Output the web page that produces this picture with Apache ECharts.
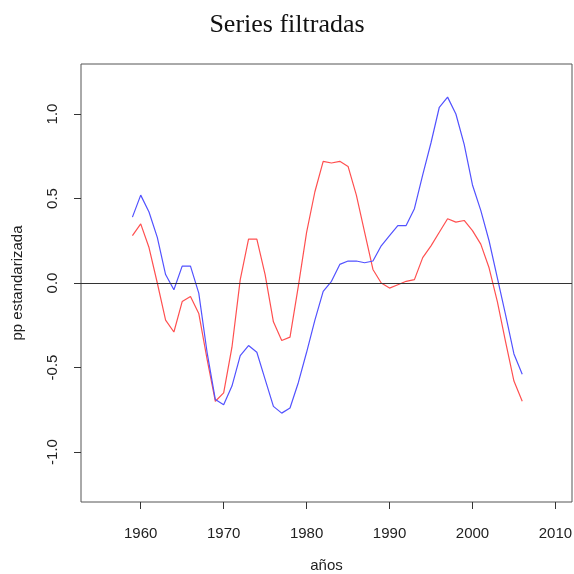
<!DOCTYPE html>
<html>
<head>
<meta charset="utf-8">
<script src="https://cdn.jsdelivr.net/npm/echarts@6/dist/echarts.min.js"></script>
<style>
  html, body { margin: 0; padding: 0; background: #fff; }
  #chart { width: 574px; height: 574px; }
</style>
</head>
<body>
<div id="chart"></div>
<script>
// Years of the filtered series
const years = [1959, 1960, 1961, 1962, 1963, 1964, 1965, 1966, 1967, 1968,
  1969, 1970, 1971, 1972, 1973, 1974, 1975, 1976, 1977, 1978,
  1979, 1980, 1981, 1982, 1983, 1984, 1985, 1986, 1987, 1988,
  1989, 1990, 1991, 1992, 1993, 1994, 1995, 1996, 1997, 1998,
  1999, 2000, 2001, 2002, 2003, 2004, 2005, 2006];

// Blue filtered series (standardised)
const serieAzul = [0.39, 0.52, 0.42, 0.27, 0.05, -0.04, 0.10, 0.10, -0.06, -0.41,
  -0.69, -0.72, -0.61, -0.43, -0.37, -0.41, -0.57, -0.73, -0.77, -0.74,
  -0.59, -0.41, -0.22, -0.05, 0.01, 0.11, 0.13, 0.13, 0.12, 0.13,
  0.22, 0.28, 0.34, 0.34, 0.44, 0.64, 0.83, 1.04, 1.10, 1.00,
  0.82, 0.58, 0.43, 0.25, 0.03, -0.19, -0.42, -0.54];

// Red filtered series (standardised)
const serieRoja = [0.28, 0.35, 0.21, 0.00, -0.22, -0.29, -0.11, -0.08, -0.18, -0.45,
  -0.70, -0.65, -0.38, 0.02, 0.26, 0.26, 0.05, -0.23, -0.34, -0.32,
  -0.02, 0.30, 0.54, 0.72, 0.71, 0.72, 0.69, 0.52, 0.30, 0.08,
  0.00, -0.03, -0.01, 0.01, 0.02, 0.15, 0.22, 0.30, 0.38, 0.36,
  0.37, 0.31, 0.23, 0.09, -0.11, -0.35, -0.58, -0.70];

// Axis ticks
const xTicks = [1960, 1970, 1980, 1990, 2000, 2010];
const yTicks = [-1.0, -0.5, 0.0, 0.5, 1.0];

const pairs = (xs, ys) => xs.map((x, i) => [x, ys[i]]);

const textColor = '#222';
const fontFamily = '"Liberation Sans", Arial, Helvetica, sans-serif';
const fontSize = 15;

const chart = echarts.init(document.getElementById('chart'), null, { renderer: 'canvas' });

chart.setOption({
  animation: false,
  backgroundColor: '#ffffff',
  title: {
    text: 'Series filtradas',
    left: 'center',
    top: 7,
    textStyle: {
      fontFamily: '"Liberation Serif", "Times New Roman", serif',
      fontWeight: 'normal',
      fontSize: 26,
      color: '#111'
    }
  },
  grid: {
    left: 81,
    top: 64,
    width: 491,
    height: 438,
    containLabel: false,
    outerBoundsMode: 'none',
    show: true,
    borderColor: '#555',
    borderWidth: 1,
    backgroundColor: 'transparent'
  },
  xAxis: {
    type: 'value',
    min: 1952.8,
    max: 2012.0,
    name: 'años',
    nameLocation: 'middle',
    nameGap: 56,
    nameTextStyle: { color: textColor, fontFamily, fontSize },
    axisLine: { show: false, onZero: false },
    splitLine: { show: false },
    axisTick: {
      show: true,
      inside: false,
      length: 7,
      customValues: xTicks,
      lineStyle: { color: '#333', width: 1 }
    },
    axisLabel: {
      show: true,
      margin: 24,
      customValues: xTicks,
      color: textColor,
      fontFamily,
      fontSize,
      formatter: v => String(v)
    }
  },
  yAxis: {
    type: 'value',
    min: -1.296,
    max: 1.296,
    name: 'pp estandarizada',
    nameLocation: 'middle',
    nameGap: 56,
    nameRotate: 90,
    nameTextStyle: { color: textColor, fontFamily, fontSize },
    axisLine: { show: false, onZero: false },
    splitLine: { show: false },
    axisTick: {
      show: true,
      inside: false,
      length: 7,
      customValues: yTicks,
      lineStyle: { color: '#333', width: 1 }
    },
    axisLabel: {
      show: true,
      rotate: 90,
      margin: 21,
      customValues: yTicks,
      color: textColor,
      fontFamily,
      fontSize,
      formatter: v => v.toFixed(1)
    }
  },
  series: [
    {
      name: 'azul',
      type: 'line',
      data: pairs(years, serieAzul),
      showSymbol: false,
      symbol: 'none',
      lineStyle: { color: '#5252ff', width: 1.2 },
      z: 3,
      markLine: {
        silent: true,
        symbol: 'none',
        label: { show: false },
        lineStyle: { color: '#333', width: 1.2, type: 'solid' },
        data: [{ yAxis: 0 }]
      }
    },
    {
      name: 'roja',
      type: 'line',
      data: pairs(years, serieRoja),
      showSymbol: false,
      symbol: 'none',
      lineStyle: { color: '#ff5050', width: 1.2 },
      z: 2
    }
  ]
});
</script>
</body>
</html>
